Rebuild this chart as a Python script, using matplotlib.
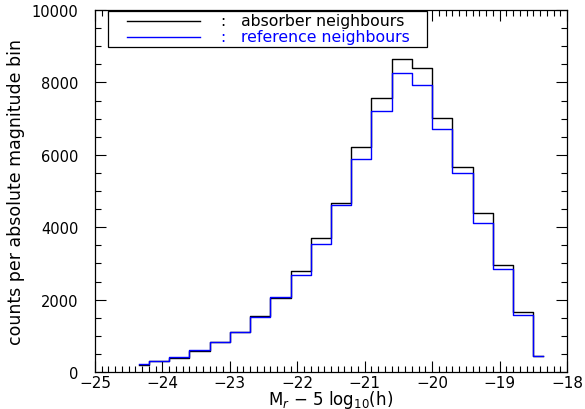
import numpy as np
import matplotlib.pyplot as plt
from matplotlib.patches import Rectangle
from matplotlib.ticker import MultipleLocator

# bin centres (0.3 mag wide) and counts per bin
mag_centres = np.round(np.arange(-24.35, -18.3, 0.3), 2)
absorber_counts = [190, 300, 380, 590, 835, 1110, 1535, 2035, 2800, 3710, 4680,
                   6215, 7560, 8650, 8400, 7025, 5655, 4400, 2965, 1650, 450]
reference_counts = [230, 310, 405, 620, 830, 1110, 1530, 2080, 2680, 3525, 4605,
                    5875, 7210, 8260, 7940, 6720, 5490, 4125, 2855, 1585, 450]
series_names = ['absorber neighbours', 'reference neighbours']
series_colors = ['black', 'blue']

plt.rcParams['font.family'] = 'DejaVu Sans'
plt.rcParams['font.size'] = 10

fig = plt.figure(figsize=(5.85, 4.10), dpi=100)
ax = fig.add_axes([95/585, 37/410, 472/585, 362/410])

for counts, col in zip([absorber_counts, reference_counts], series_colors):
    ax.step(mag_centres, counts, where='mid', color=col, lw=1.0)

ax.set_xlim(-25, -18)
ax.set_ylim(0, 10000)
ax.xaxis.set_major_locator(MultipleLocator(1))
ax.xaxis.set_minor_locator(MultipleLocator(0.1))
ax.yaxis.set_major_locator(MultipleLocator(2000))
ax.yaxis.set_minor_locator(MultipleLocator(500))
ax.tick_params(which='both', direction='in', top=True, right=True, width=0.8)
ax.tick_params(which='major', length=8)
ax.tick_params(which='minor', length=4)
ax.tick_params(axis='x', which='major', pad=2, labelsize=11)
ax.tick_params(axis='y', which='major', pad=12, labelsize=10.5)
for sp in ax.spines.values():
    sp.set_linewidth(0.9)

ax.set_xlabel(r'M$_r$ $-$ 5 log$_{10}$(h)', fontsize=12, labelpad=-1)
ax.set_ylabel('counts per absolute magnitude bin', fontsize=12.5, labelpad=5)

# legend box drawn by hand: line, colon, coloured name
ax.add_patch(Rectangle((0.0275, 0.898), 0.6755, 0.099, transform=ax.transAxes,
                       fill=True, facecolor='white', edgecolor='black', lw=0.9,
                       zorder=5))
for i, (name, col) in enumerate(zip(series_names, series_colors)):
    y = 0.970 - i * 0.044
    ax.plot([0.068, 0.222], [y, y], color=col, lw=1.0, transform=ax.transAxes,
            zorder=6)
    ax.text(0.266, y, ':', color=col, fontsize=11, va='center',
            transform=ax.transAxes, zorder=6)
    ax.text(0.309, y, name, color=col, fontsize=11.3, va='center',
            transform=ax.transAxes, zorder=6)

fig.savefig('out.png', dpi=100)
